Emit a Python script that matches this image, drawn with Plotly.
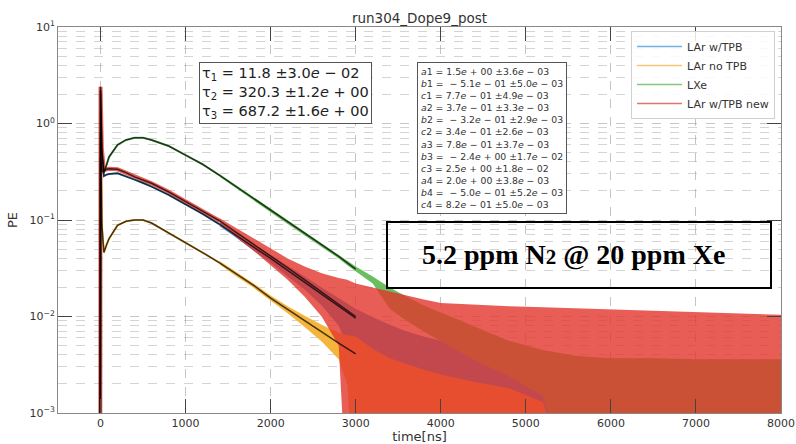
import plotly.graph_objects as go

# ---------------- data ----------------
below_axis = 1e-4  # trace value below the visible range (noise reaching zero)
F = below_axis

# main (fit) region
t_main = [-3, 0, 15, 40, 70, 100, 200, 300, 400, 500, 600, 800, 1000, 1200, 1400,
          1600, 1800, 2000, 2200, 2400, 2600, 2800, 3000]
lar_tpb = [F, 2.2, 0.5, 0.285, 0.295, 0.3, 0.305, 0.285, 0.262, 0.242, 0.222, 0.182, 0.145, 0.116, 0.09,
           0.069, 0.052, 0.04, 0.03, 0.0225, 0.0168, 0.0127, 0.0096]
lar_notpb = [F, 0.8, 0.09, 0.046, 0.055, 0.064, 0.088, 0.097, 0.1, 0.1, 0.093, 0.074, 0.058, 0.046, 0.036,
             0.0275, 0.021, 0.0155, 0.0118, 0.009, 0.0069, 0.0053, 0.0041]
lxe = [F, 0.45, 0.33, 0.31, 0.37, 0.45, 0.6, 0.675, 0.71, 0.71, 0.675, 0.585, 0.47, 0.378, 0.29,
       0.22, 0.165, 0.125, 0.095, 0.072, 0.055, 0.042, 0.031]
lar_tpb_new = [F, 2.4, 0.55, 0.325, 0.335, 0.34, 0.335, 0.31, 0.28, 0.26, 0.24, 0.196, 0.155, 0.125, 0.098,
               0.074, 0.056, 0.043, 0.032, 0.024, 0.0178, 0.0134, 0.010]

# noisy tail region: upper / lower envelopes
t_tail = [1400, 1600, 1800, 2000, 2200, 2400, 2600, 2800, 2900, 3000, 3200, 3400, 3600, 3800,
          4000, 4400, 4800, 5200, 5600, 6000, 6500, 7000, 7500, 8000]
lar_tpb_hi = [0.094, 0.073, 0.056, 0.044, 0.034, 0.026, 0.02, 0.0155, 0.0135, 0.012, 0.0098, 0.0082, 0.007, 0.0062,
              0.0056, 0.0046, 0.0034, 0.0022, F, F, F, F, F, F]
lar_tpb_lo = [0.086, 0.065, 0.048, 0.036, 0.026, 0.019, 0.013, 0.008, 0.005, F, F, F, F, F,
              F, F, F, F, F, F, F, F, F, F]
lar_notpb_hi = [0.0375, 0.029, 0.022, 0.0165, 0.0128, 0.0102, 0.0082, 0.0068, 0.0064, 0.0062, 0.0046, 0.0037, 0.0032, 0.0028,
                0.0025, 0.0021, 0.0018, 0.0013, F, F, F, F, F, F]
lar_notpb_lo = [0.0345, 0.026, 0.0198, 0.0145, 0.0108, 0.0078, 0.0055, 0.0036, 0.002, F, F, F, F, F,
                F, F, F, F, F, F, F, F, F, F]
lxe_hi = [0.3, 0.228, 0.171, 0.13, 0.099, 0.075, 0.057, 0.044, 0.038, 0.033, 0.026, 0.02, 0.016, 0.013,
          0.011, 0.0078, 0.0056, 0.0045, 0.0039, 0.0037, 0.0037, 0.0036, 0.0036, 0.0036]
lxe_lo = [0.28, 0.212, 0.159, 0.12, 0.091, 0.069, 0.053, 0.04, 0.034, 0.029, 0.022, 0.012, 0.009, 0.007,
          0.0055, 0.0035, 0.0024, 0.0015, F, F, F, F, F, F]
new_hi = [0.104, 0.082, 0.064, 0.05, 0.04, 0.033, 0.028, 0.025, 0.024, 0.022, 0.02, 0.018, 0.0165, 0.015,
          0.0138, 0.0132, 0.0128, 0.0125, 0.0122, 0.0118, 0.0115, 0.0112, 0.0108, 0.0104]
new_lo = [0.092, 0.066, 0.048, 0.034, 0.024, 0.016, 0.01, 0.005, F, F, F, F, F, F,
          F, F, F, F, F, F, F, F, F, F]

names = ["LAr w/TPB", "LAr no TPB", "LXe", "LAr w/TPB new"]
x_ticks = [0, 1000, 2000, 3000, 4000, 5000, 6000, 7000, 8000]
y_ticks = [1e-3, 1e-2, 1e-1, 1e0, 1e1]
y_ticktext = ["10<sup>−3</sup>", "10<sup>−2</sup>", "10<sup>−1</sup>", "10<sup>0</sup>", "10<sup>1</sup>"]

tau_lines = ["τ<sub>1</sub> = 11.8 ±3.0<i>e</i> − 02",
             "τ<sub>2</sub> = 320.3 ±1.2<i>e</i> + 00",
             "τ<sub>3</sub> = 687.2 ±1.6<i>e</i> + 00"]
param_lines = ["<i>a</i>1 = 1.5<i>e</i> + 00 ±3.6<i>e</i> − 03",
               "<i>b</i>1 =  − 5.1<i>e</i> − 01 ±5.0<i>e</i> − 03",
               "<i>c</i>1 = 7.7<i>e</i> − 01 ±4.9<i>e</i> − 03",
               "<i>a</i>2 = 3.7<i>e</i> − 01 ±3.3<i>e</i> − 03",
               "<i>b</i>2 =  − 3.2<i>e</i> − 01 ±2.9<i>e</i> − 03",
               "<i>c</i>2 = 3.4<i>e</i> − 01 ±2.6<i>e</i> − 03",
               "<i>a</i>3 = 7.8<i>e</i> − 01 ±3.7<i>e</i> − 03",
               "<i>b</i>3 =  − 2.4<i>e</i> + 00 ±1.7<i>e</i> − 02",
               "<i>c</i>3 = 2.5<i>e</i> + 00 ±1.8<i>e</i> − 02",
               "<i>a</i>4 = 2.0<i>e</i> + 00 ±3.8<i>e</i> − 03",
               "<i>b</i>4 =  − 5.0<i>e</i> − 01 ±5.2<i>e</i> − 03",
               "<i>c</i>4 = 8.2<i>e</i> − 01 ±5.0<i>e</i> − 03"]

# ---------------- styling ----------------
colors = ["rgb(70,150,210)", "rgb(245,180,60)", "rgb(105,190,95)", "rgba(226,52,44,0.8)"]
legend_colors = ["rgb(110,178,228)", "rgb(246,198,115)", "rgb(130,200,130)", "rgb(226,118,108)"]
line_w = [2, 2, 2, 4]

fig = go.Figure()
series_main = [lar_tpb, lar_notpb, lxe, lar_tpb_new]
series_hi = [lar_tpb_hi, lar_notpb_hi, lxe_hi, new_hi]
series_lo = [lar_tpb_lo, lar_notpb_lo, lxe_lo, new_lo]
n_line = t_main.index(1400) + 1

for i in range(4):
    fig.add_trace(go.Scatter(x=t_main[:n_line], y=series_main[i][:n_line], mode="lines",
                             line=dict(color=colors[i], width=line_w[i]), showlegend=False,
                             hoverinfo="skip"))
    fig.add_trace(go.Scatter(x=t_tail + t_tail[::-1], y=series_hi[i] + series_lo[i][::-1],
                             mode="lines", fill="toself", fillcolor=colors[i],
                             line=dict(width=0, color=colors[i]), showlegend=False,
                             hoverinfo="skip"))

# fit curves
for i in range(4):
    fig.add_trace(go.Scatter(x=t_main, y=series_main[i], mode="lines",
                             line=dict(color="rgba(0,0,0,0.72)", width=1.5), showlegend=False,
                             hoverinfo="skip"))

# legend entries
for i in range(4):
    fig.add_trace(go.Scatter(x=[None], y=[None], mode="lines", name=names[i],
                             line=dict(color=legend_colors[i], width=1.5)))

W, H = 796, 444
L, R, T, B = 58, 15, 27, 31
pw, ph = W - L - R, H - T - B


def px(xp):
    return (xp - L) / pw


def py(yp):
    return (H - B - yp) / ph


grid_col = "rgba(150,150,150,0.55)"
minor_vals = [m * 10.0 ** e for e in range(-3, 1) for m in range(2, 10)]

fig.update_layout(
    width=W, height=H,
    margin=dict(l=L, r=R, t=T, b=B, autoexpand=False),
    paper_bgcolor="white", plot_bgcolor="white",
    font=dict(family="DejaVu Sans", size=11, color="#333"),
    title=dict(text="run304_Dope9_post", x=0.5, xref="paper", y=1 - 18 / H, yref="container",
               yanchor="middle", xanchor="center", font=dict(size=13.5, color="#333")),
    xaxis=dict(range=[-500, 8000], tickvals=x_ticks, ticks="inside", ticklen=14, tickcolor="#444",
               showline=True, linecolor="#888", mirror="ticks", showgrid=True, gridcolor=grid_col,
               griddash="dash", zeroline=False, automargin=False,
               title=dict(text="time[ns]", standoff=2, font=dict(size=13))),
    yaxis=dict(type="log", range=[-3, 1], tickvals=y_ticks, ticktext=y_ticktext, ticks="inside",
               ticklen=14, tickcolor="#444", showline=True, linecolor="#888", mirror="ticks",
               showgrid=True, gridcolor=grid_col, griddash="dash", zeroline=False, automargin=False,
               minor=dict(tickmode="array", tickvals=minor_vals, showgrid=True,
                          gridcolor="rgba(160,160,160,0.45)", griddash="dash", ticks=""),
               title=dict(text="PE", standoff=8, font=dict(size=13))),
    legend=dict(x=px(775), y=py(31), xanchor="right", yanchor="top", bgcolor="rgba(255,255,255,0.85)",
                bordercolor="#d0d0d0", borderwidth=1, font=dict(size=11, color="#333"),
                itemwidth=45, tracegroupgap=0),
    showlegend=True,
)

fig.add_annotation(xref="paper", yref="paper", x=px(199), y=py(62), xanchor="left", yanchor="top",
                   text="<br>".join(tau_lines), showarrow=False, align="left",
                   font=dict(size=14.5, color="#222"), bgcolor="white", bordercolor="#555",
                   borderwidth=1, borderpad=2)
fig.add_annotation(xref="paper", yref="paper", x=px(417), y=py(62), xanchor="left", yanchor="top",
                   text="<br>".join(param_lines), showarrow=False, align="left",
                   font=dict(size=9.3, color="#333"), bgcolor="rgba(255,255,255,0.9)",
                   bordercolor="#555", borderwidth=1, borderpad=3)

fig.add_shape(type="rect", xref="paper", yref="paper", x0=px(387), x1=px(771), y0=py(288), y1=py(222),
              line=dict(color="black", width=2), fillcolor="rgba(0,0,0,0)", layer="above")
fig.add_annotation(xref="paper", yref="paper", x=px(573), y=py(254), xanchor="center", yanchor="middle",
                   text="<b>5.2 ppm N<span style='font-size:21px'>2</span> @ 20 ppm Xe</b>",
                   showarrow=False, font=dict(family="Liberation Serif", size=28, color="black"))

fig.write_html("out.html")
